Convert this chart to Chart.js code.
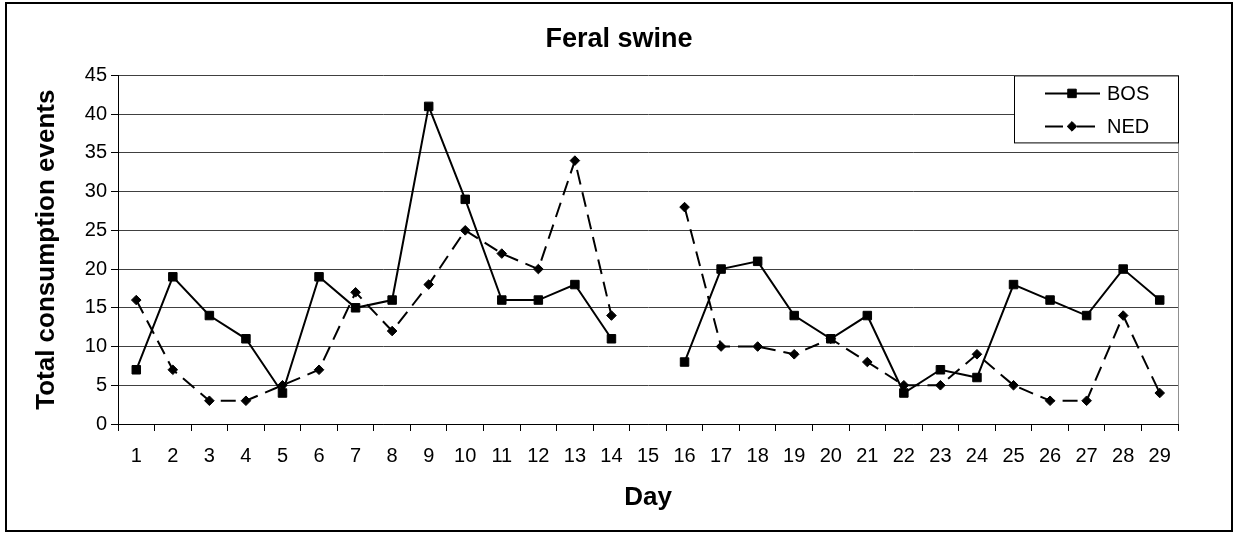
<!DOCTYPE html>
<html>
<head>
<meta charset="utf-8">
<title>Feral swine</title>
<script src="https://cdn.jsdelivr.net/npm/chart.js@4/dist/chart.umd.min.js"></script>
<style>
    body { margin: 0; background: #fff; }
    #wrap { width: 1238px; height: 533px; }
</style>
</head>
<body>
<div id="wrap"><canvas id="swineChart" width="1238" height="533"></canvas></div>
<script>
// Dados (dia 15 sem registro)
const days = ['1', '2', '3', '4', '5', '6', '7', '8', '9', '10', '11', '12', '13', '14', '15',
    '16', '17', '18', '19', '20', '21', '22', '23', '24', '25', '26', '27', '28', '29'];
const bosValues = [7, 19, 14, 11, 4, 19, 15, 16, 41, 29, 16, 16, 18, 11, null,
    8, 20, 21, 14, 11, 14, 4, 7, 6, 18, 16, 14, 20, 16];
const nedValues = [16, 7, 3, 3, 5, 7, 17, 12, 18, 25, 22, 20, 34, 14, null,
    28, 10, 10, 9, 11, 8, 5, 5, 9, 5, 3, 3, 14, 4];
const yTicks = { min: 0, max: 45, step: 5 };

const FONT = "'Liberation Sans', Arial, sans-serif";
Chart.defaults.font.family = FONT;
Chart.defaults.color = '#000';

// Moldura externa, borda direita da área do gráfico e legenda em caixa
const framePlugin = {
    id: 'frame',
    beforeDraw(chart) {
        const ctx = chart.ctx;
        ctx.save();
        ctx.fillStyle = '#fff';
        ctx.fillRect(0, 0, chart.width, chart.height);
        ctx.strokeStyle = '#000';
        ctx.lineWidth = 2;
        ctx.strokeRect(6, 3, 1226, 528);
        ctx.restore();
    },
    beforeDatasetsDraw(chart) {
        const { ctx, chartArea } = chart;
        ctx.save();
        ctx.strokeStyle = '#909090';
        ctx.lineWidth = 1;
        ctx.beginPath();
        ctx.moveTo(chartArea.right + 0.5, chartArea.top);
        ctx.lineTo(chartArea.right + 0.5, chartArea.bottom);
        ctx.stroke();
        ctx.restore();
    },
    afterDraw(chart) {
        const { ctx, chartArea } = chart;
        const boxW = 164, boxH = 67;
        const x0 = chartArea.right - boxW;
        const y0 = chartArea.top;
        ctx.save();
        ctx.fillStyle = '#fff';
        ctx.fillRect(x0, y0, boxW, boxH);
        ctx.strokeStyle = '#000';
        ctx.lineWidth = 1;
        ctx.strokeRect(x0 + 0.5, y0 + 0.5, boxW, boxH);

        chart.data.datasets.forEach((ds, i) => {
            const y = y0 + 18 + i * 33;
            const lx1 = x0 + 31, lx2 = x0 + 86;
            ctx.strokeStyle = '#000';
            ctx.fillStyle = '#000';
            ctx.lineWidth = 2;
            ctx.setLineDash(i === 0 ? [] : [18, 14]);
            ctx.beginPath();
            ctx.moveTo(lx1, y);
            ctx.lineTo(lx2, y);
            ctx.stroke();
            ctx.setLineDash([]);
            ctx.lineWidth = 1;
            Chart.helpers.drawPoint(ctx, {
                pointStyle: ds.pointStyle,
                radius: ds.pointRadius,
                borderWidth: 1
            }, x0 + 58, y);
            ctx.font = '20px ' + FONT;
            ctx.textBaseline = 'middle';
            ctx.textAlign = 'left';
            ctx.fillText(ds.label, x0 + 93, y + 1);
        });
        ctx.restore();
    }
};

new Chart(document.getElementById('swineChart').getContext('2d'), {
    type: 'line',
    data: {
        labels: days,
        datasets: [{
            label: 'BOS',
            data: bosValues,
            borderColor: '#000',
            backgroundColor: '#000',
            borderWidth: 2,
            pointStyle: 'rect',
            pointRadius: 6,
            pointBorderWidth: 1,
            spanGaps: false,
            tension: 0
        }, {
            label: 'NED',
            data: nedValues,
            borderColor: '#000',
            backgroundColor: '#000',
            borderWidth: 2,
            borderDash: [15, 8],
            pointStyle: 'rectRot',
            pointRadius: 4.8,
            pointBorderWidth: 1,
            spanGaps: false,
            tension: 0
        }]
    },
    options: {
        responsive: false,
        animation: false,
        layout: { padding: { left: 0, right: 0, top: 0, bottom: 0 } },
        plugins: {
            legend: { display: false },
            tooltip: { enabled: false },
            title: {
                display: true,
                text: 'Feral swine',
                color: '#000',
                font: { size: 27, weight: 'bold' },
                padding: { top: 23, bottom: 20 }
            }
        },
        scales: {
            x: {
                offset: true,
                grid: {
                    offset: true,
                    drawOnChartArea: false,
                    drawTicks: true,
                    tickLength: 7,
                    color: '#000'
                },
                border: { color: '#000', width: 1 },
                ticks: { font: { size: 20 }, padding: 13, maxRotation: 0, autoSkip: false },
                title: {
                    display: true,
                    text: 'Day',
                    font: { size: 26, weight: 'bold' },
                    padding: { top: 0, bottom: 20 }
                },
                afterFit(scale) { scale.height = 109; }
            },
            y: {
                min: yTicks.min,
                max: yTicks.max,
                ticks: { stepSize: yTicks.step, font: { size: 20 }, padding: 4 },
                grid: {
                    color: '#404040',
                    tickColor: '#000',
                    tickLength: 7
                },
                border: { color: '#000', width: 1 },
                title: {
                    display: true,
                    text: 'Total consumption events',
                    font: { size: 26, weight: 'bold' },
                    padding: { top: 31, bottom: 0 }
                },
                afterFit(scale) { scale.width = 118; }
            },
            // eixo vazio à direita, só reserva o espaço até a moldura
            yRight: {
                position: 'right',
                min: yTicks.min,
                max: yTicks.max,
                ticks: { display: false },
                grid: { display: false, drawOnChartArea: false },
                border: { display: false },
                afterFit(scale) { scale.width = 60; }
            }
        }
    },
    plugins: [framePlugin]
});
</script>
</body>
</html>
